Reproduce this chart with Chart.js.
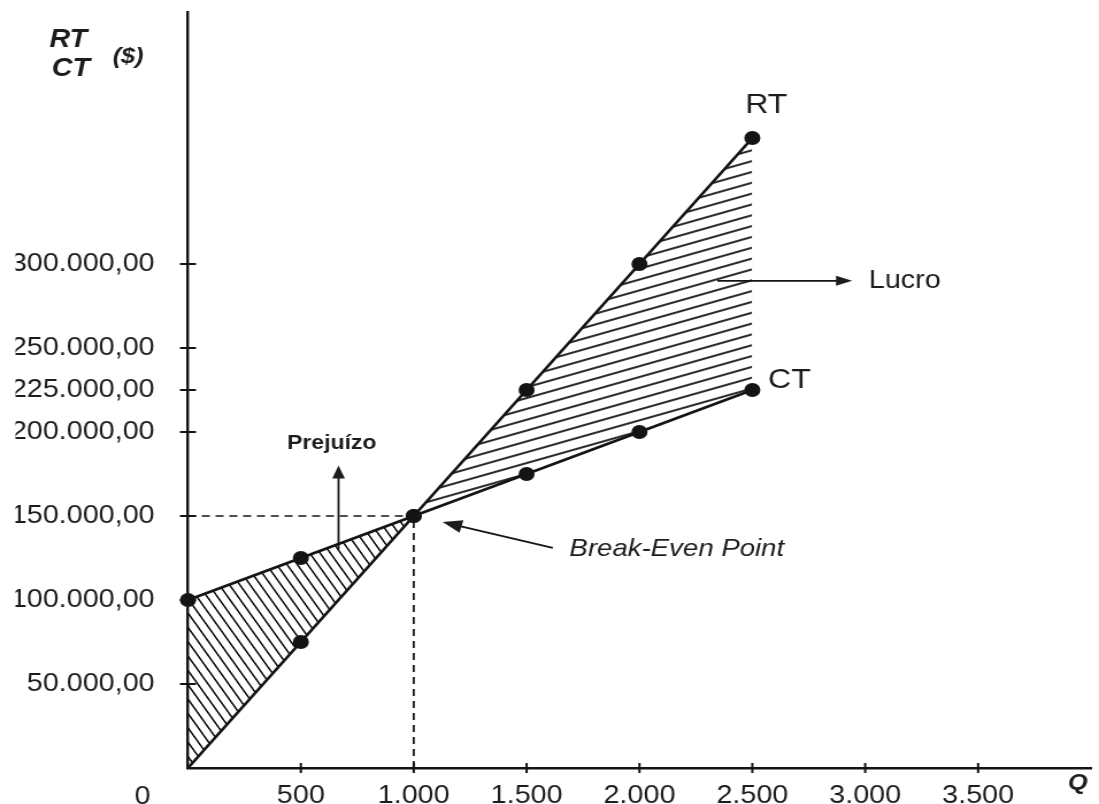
<!DOCTYPE html>
<html>
<head>
<meta charset="utf-8">
<script src="https://cdn.jsdelivr.net/npm/chart.js@4.4.1/dist/chart.umd.min.js"></script>
<style>
  html, body { margin: 0; padding: 0; background: #fff; overflow: hidden; }
  #grafico { display: block; }
</style>
</head>
<body>
<!-- drawn on a narrower bitmap and shown wider, so lettering and dots come out slightly broad -->
<canvas id="grafico" width="956" height="804" style="width:1099px;height:804px"></canvas>
<script>
// Quantidade vendida (Q) e totais em $
const quantidades  = [0, 500, 1000, 1500, 2000, 2500];
const receitaTotal = [0, 75000, 150000, 225000, 300000, 375000];
const custoTotal   = [100000, 125000, 150000, 175000, 200000, 225000];

// ponto de equilíbrio
const equilibrioQ = 1000;
const equilibrioValor = 150000;

// marcas dos eixos
const yTicks = [50000, 100000, 150000, 200000, 225000, 250000, 300000];
const yTickLabels = ['50.000,00', '100.000,00', '150.000,00', '200.000,00', '225.000,00', '250.000,00', '300.000,00'];
const xTicks = [500, 1000, 1500, 2000, 2500, 3000, 3500];
const xTickLabels = ['500', '1.000', '1.500', '2.000', '2.500', '3.000', '3.500'];

const INK = '#141414';
const TXT = '#1c1c1c';
const FONT = "'Liberation Sans', Arial, Helvetica, sans-serif";

// diagonal hatching as a repeating pattern
function hatch(angle, spacing, lineW, color) {
  const c = document.createElement('canvas');
  c.width = 32; c.height = 10;
  const g = c.getContext('2d');
  g.strokeStyle = color;
  g.lineWidth = lineW * 10 / spacing;
  g.beginPath(); g.moveTo(0, 5); g.lineTo(32, 5); g.stroke();
  const p = g.createPattern(c, 'repeat');
  p.setTransform(new DOMMatrix().rotateSelf(angle).scaleSelf(1, spacing / 10));
  return p;
}
const hatchLucro = hatch(-18, 10.3, 1.8, '#0d0d0d');
const hatchPrejuizo = hatch(58, 7.6, 1.5, '#0d0d0d');

const rtPts = quantidades.map((q, i) => ({ x: q, y: receitaTotal[i] }));
const ctPts = quantidades.map((q, i) => ({ x: q, y: custoTotal[i] }));

// cross-shaped tick marks straddling both axes
const crossTicks = {
  id: 'crossTicks',
  afterDatasetsDraw(chart) {
    const { ctx, chartArea: a, scales: { x, y } } = chart;
    ctx.save();
    ctx.strokeStyle = INK;
    ctx.lineWidth = 2;
    yTicks.forEach(v => {
      const py = y.getPixelForValue(v);
      ctx.beginPath(); ctx.moveTo(a.left - 7, py); ctx.lineTo(a.left + 7, py); ctx.stroke();
    });
    xTicks.forEach(v => {
      const px = x.getPixelForValue(v);
      ctx.beginPath(); ctx.moveTo(px, a.bottom - 5); ctx.lineTo(px, a.bottom + 5); ctx.stroke();
    });
    ctx.restore();
  }
};

function arrow(ctx, x1, y1, x2, y2, len, wid) {
  const ang = Math.atan2(y2 - y1, x2 - x1);
  ctx.beginPath();
  ctx.moveTo(x1, y1);
  ctx.lineTo(x2 - Math.cos(ang) * len * 0.8, y2 - Math.sin(ang) * len * 0.8);
  ctx.stroke();
  ctx.save();
  ctx.translate(x2, y2);
  ctx.rotate(ang);
  ctx.beginPath();
  ctx.moveTo(0, 0); ctx.lineTo(-len, wid / 2); ctx.lineTo(-len, -wid / 2);
  ctx.closePath(); ctx.fill();
  ctx.restore();
}

// labels, call-outs and axis titles
const notas = {
  id: 'notas',
  afterDraw(chart) {
    const { ctx, scales: { x, y }, chartArea: a } = chart;
    const X = v => x.getPixelForValue(v);
    const Y = v => y.getPixelForValue(v);
    ctx.save();
    ctx.fillStyle = TXT;
    ctx.strokeStyle = INK;
    ctx.textBaseline = 'middle';

    // curve names
    ctx.textAlign = 'left';
    ctx.font = `28px ${FONT}`;
    ctx.fillText('RT', X(2468), Y(394600));
    ctx.fillText('CT', X(2569), Y(231000));

    // lucro
    ctx.lineWidth = 1.8;
    arrow(ctx, X(2345), Y(290000), X(2942), Y(290000), 14, 10);
    ctx.font = `25px ${FONT}`;
    ctx.fillText('Lucro', X(3016), Y(290000));

    // prejuízo
    arrow(ctx, X(667), Y(130000), X(667), Y(180000), 13, 11);
    ctx.textAlign = 'center';
    ctx.font = `bold 20px ${FONT}`;
    ctx.fillText('Prejuízo', X(637), Y(193000));

    // ponto de equilíbrio
    arrow(ctx, X(1616), Y(131000), X(1128), Y(146400), 17, 13);
    ctx.textAlign = 'left';
    ctx.font = `italic 24px ${FONT}`;
    ctx.fillText('Break-Even Point', X(1690), Y(130000));

    // axis titles
    ctx.font = `bold italic 25px ${FONT}`;
    ctx.fillText('RT', 43, 40);
    ctx.fillText('CT', 45, 69);
    ctx.font = `bold italic 22px ${FONT}`;
    ctx.fillText('($)', 98, 57);
    ctx.fillText('Q', a.right - 20, 783);

    // origin
    ctx.textAlign = 'center';
    ctx.font = `25px ${FONT}`;
    ctx.fillText('0', 124, 797);
    ctx.restore();
  }
};

new Chart(document.getElementById('grafico'), {
  type: 'line',
  data: {
    datasets: [
      {
        label: 'RT',
        data: rtPts,
        borderColor: INK,
        borderWidth: 2.7,
        pointRadius: c => (c.raw && c.raw.y === 0 ? 0 : 7),
        pointBackgroundColor: INK,
        pointBorderWidth: 0,
        tension: 0,
        clip: false,
        fill: { target: 1, above: hatchLucro, below: hatchPrejuizo }
      },
      {
        label: 'CT',
        data: ctPts,
        borderColor: INK,
        borderWidth: 2.7,
        pointRadius: 7,
        pointBackgroundColor: INK,
        pointBorderWidth: 0,
        tension: 0,
        clip: false,
        fill: false
      },
      {
        label: 'equilíbrio-h',
        data: [{ x: 0, y: equilibrioValor }, { x: equilibrioQ, y: equilibrioValor }],
        borderColor: INK,
        borderWidth: 1.6,
        borderDash: [7, 5],
        pointRadius: 0,
        fill: false
      },
      {
        label: 'equilíbrio-v',
        data: [{ x: equilibrioQ, y: 0 }, { x: equilibrioQ, y: equilibrioValor }],
        borderColor: INK,
        borderWidth: 1.8,
        borderDash: [7, 5],
        pointRadius: 0,
        fill: false
      }
    ]
  },
  options: {
    responsive: false,
    devicePixelRatio: 1,
    animation: false,
    events: [],
    layout: { padding: { left: 13.5, top: 12, right: 0, bottom: 0 } },
    plugins: {
      legend: { display: false },
      tooltip: { enabled: false },
      filler: { drawTime: 'beforeDatasetsDraw' }
    },
    scales: {
      x: {
        type: 'linear',
        min: 0,
        max: 4000,
        afterBuildTicks: s => { s.ticks = xTicks.map(v => ({ value: v })); },
        afterFit: s => { s.height = 36; s.paddingLeft = 0; s.paddingRight = 0; },
        ticks: {
          autoSkip: false,
          maxRotation: 0,
          padding: 13,
          color: TXT,
          font: { family: FONT, size: 25 },
          callback: v => xTickLabels[xTicks.indexOf(v)] ?? ''
        },
        grid: { display: false, drawTicks: false },
        border: { display: true, color: INK, width: 2.4 }
      },
      y: {
        type: 'linear',
        min: 0,
        max: 450000,
        afterBuildTicks: s => { s.ticks = yTicks.map(v => ({ value: v })); },
        afterFit: s => { s.width = 150; s.paddingTop = 0; s.paddingBottom = 0; },
        ticks: {
          autoSkip: false,
          padding: 29,
          color: TXT,
          font: { family: FONT, size: 25 },
          callback: v => yTickLabels[yTicks.indexOf(v)] ?? ''
        },
        grid: { display: false, drawTicks: false },
        border: { display: true, color: INK, width: 2.4 }
      }
    }
  },
  plugins: [crossTicks, notas]
});
</script>
</body>
</html>
